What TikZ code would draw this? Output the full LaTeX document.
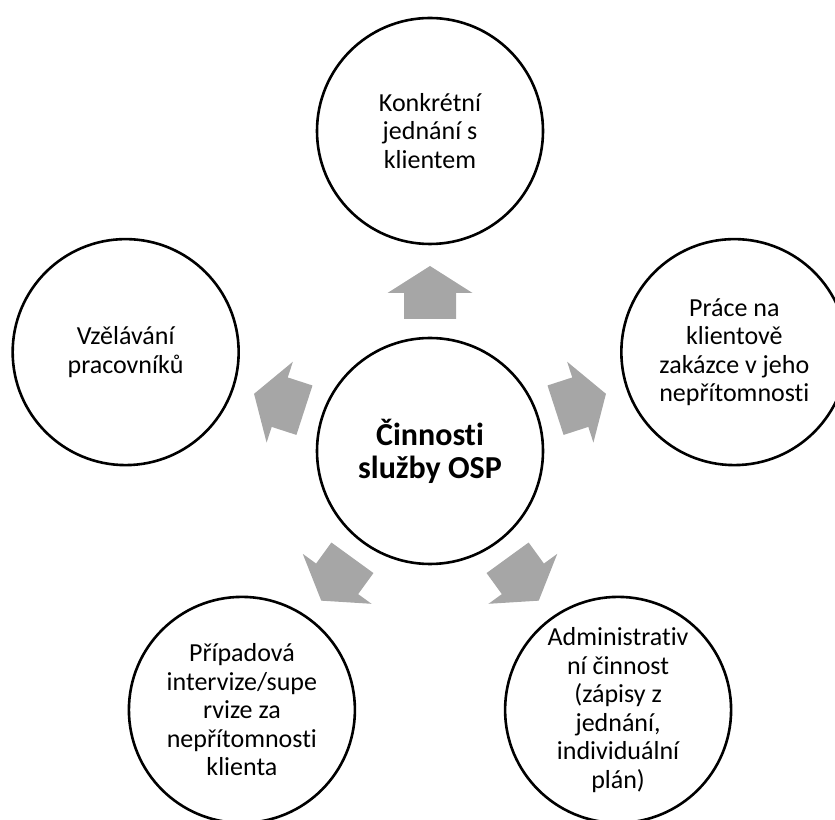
\documentclass[tikz,border=0pt]{standalone}
\usepackage{fontspec}
\setmainfont{Carlito}[Ligatures=NoCommon]
\usetikzlibrary{calc}
\definecolor{arrowgray}{HTML}{A6A6A6}
\begin{document}
\begin{tikzpicture}[x=1pt,y=1pt,
  bub/.style={circle, draw=black, line width=2.6pt, minimum size=226pt, inner sep=0pt, align=center, font=\fontsize{26}{28.5}\selectfont},
  hub/.style={bub, font=\bfseries\fontsize{32}{33}\selectfont},
  blockarrow/.style={fill=arrowgray, draw=none}]
\useasboundingbox (0,0) rectangle (835,819);
\node[hub] (c) at (430,368) {Činnosti\\služby OSP};
\node[bub] (t)  at ($(c.center)+(90:320)$)  {Konkrétní\\jednání s\\klientem};
\node[bub] (r)  at ($(c.center)+(18:320)$)  {Práce na\\klientově\\zakázce v jeho\\nepřítomnosti};
\node[bub] (br) at ($(c.center)+(306:320)$) {Administrativ\\ní činnost\\(zápisy z\\jednání,\\individuální\\plán)};
\node[bub] (bl) at ($(c.center)+(234:320)$) {Případová\\intervize/supe\\rvize za\\nepřítomnosti\\klienta};
\node[bub] (l)  at ($(c.center)+(162:320)$) {Vzělávání\\pracovníků};
\foreach \a in {90,162,234,306,18} {
  \begin{scope}[shift={(c.center)}, rotate=\a-90]
    \fill[blockarrow] (-26,132) -- (26,132) -- (26,158) -- (42.5,158) -- (0,185) -- (-42.5,158) -- (-26,158) -- cycle;
  \end{scope}
}
\end{tikzpicture}
\end{document}
